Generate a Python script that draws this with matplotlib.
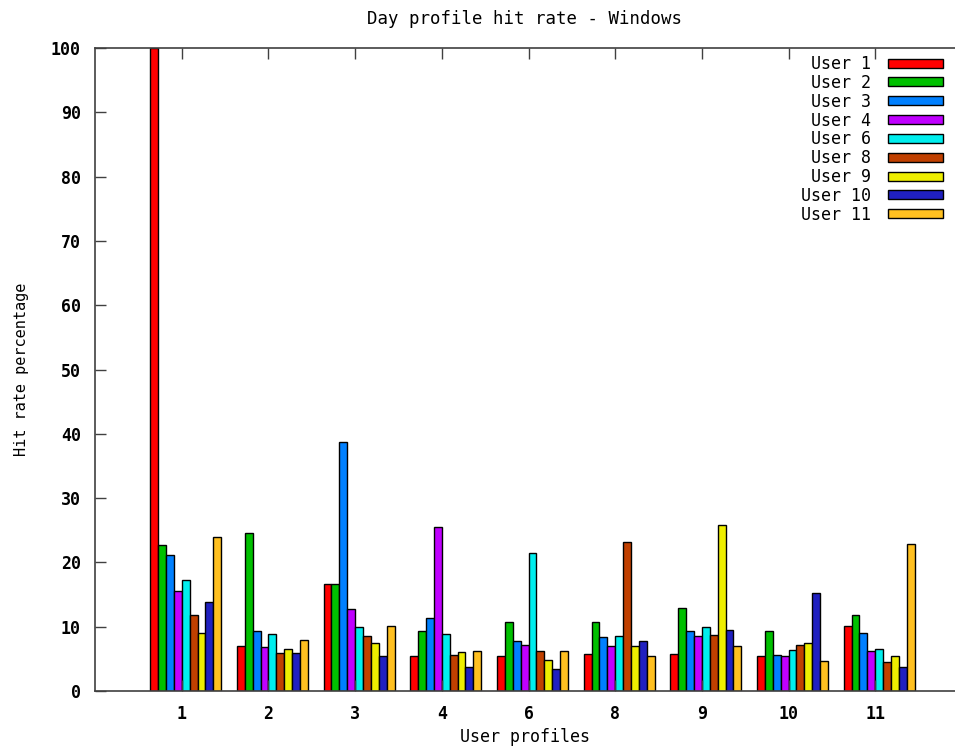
import numpy as np
import matplotlib
matplotlib.use("Agg")
import matplotlib.pyplot as plt

# hit rate (%) of each user's day profile, tested against every user profile
profiles = ["1", "2", "3", "4", "6", "8", "9", "10", "11"]
users = ["User 1", "User 2", "User 3", "User 4", "User 6",
         "User 8", "User 9", "User 10", "User 11"]

user1 = [100.0, 7.0, 16.6, 5.4, 5.4, 5.8, 5.8, 5.4, 10.1]
user2 = [22.7, 24.6, 16.6, 9.4, 10.7, 10.7, 12.9, 9.3, 11.9]
user3 = [21.2, 9.4, 38.8, 11.3, 7.8, 8.35, 9.3, 5.65, 8.95]
user4 = [15.6, 6.8, 12.7, 25.5, 7.2, 7.0, 8.55, 5.4, 6.2]
user6 = [17.2, 8.8, 9.95, 8.8, 21.5, 8.55, 9.95, 6.4, 6.6]
user8 = [11.9, 5.9, 8.55, 5.65, 6.2, 23.1, 8.75, 7.2, 4.45]
user9 = [8.97, 6.6, 7.4, 6.0, 4.8, 7.0, 25.8, 7.4, 5.4]
user10 = [13.9, 5.9, 5.4, 3.8, 3.5, 7.8, 9.55, 15.2, 3.7]
user11 = [23.9, 8.0, 10.1, 6.2, 6.2, 5.4, 7.0, 4.7, 22.9]

series = [user1, user2, user3, user4, user6, user8, user9, user10, user11]
colors = ["#ff0000", "#00c000", "#0080ff", "#c000ff", "#00eeee",
          "#c04000", "#eeee00", "#2020c0", "#ffc020"]

mono = "DejaVu Sans Mono"

fig = plt.figure(figsize=(9.55, 7.49), dpi=100)
ax = fig.add_axes([0.0992, 0.0774, 0.9008, 0.8585])

x = np.arange(len(profiles))
w = 1.0 / 11
for j, (vals, col, name) in enumerate(zip(series, colors, users)):
    ax.bar(x + (j - 4) * w, vals, width=w, align="edge", color=col,
           edgecolor="black", linewidth=1.0, label=name)

ax.set_xlim(-1.004, 8.92)
ax.set_ylim(0, 100)
ax.set_yticks(np.arange(0, 101, 10))
ax.set_xticks(x)
ax.set_xticklabels(profiles)

ax.spines["right"].set_visible(False)
for s in ["left", "top", "bottom"]:
    ax.spines[s].set_color("#404040")
    ax.spines[s].set_linewidth(1.2)

ax.tick_params(axis="both", direction="in", length=8, width=1,
               color="#404040", top=True, right=False, pad=10)
for lab in ax.get_yticklabels() + ax.get_xticklabels():
    lab.set_fontfamily(mono)
    lab.set_fontsize(12)
    lab.set_fontweight("bold")

ax.set_title("Day profile hit rate - Windows", family=mono, fontsize=12.5,
             pad=17)
ax.set_xlabel("User profiles", family=mono, fontsize=12, labelpad=4)
ax.set_ylabel("Hit rate percentage", family=mono, fontsize=11, labelpad=16)

leg = ax.legend(loc="upper right", bbox_to_anchor=(943 / 955, 1 - 55 / 749),
                bbox_transform=fig.transFigure, frameon=False,
                markerfirst=False, prop={"family": mono, "size": 12},
                handlelength=3.3, handleheight=0.45, handletextpad=1.0,
                labelspacing=0.05, borderpad=0, borderaxespad=0)
for t in leg.get_texts():
    t.set_ha("right")

fig.savefig("out.png", dpi=100)
